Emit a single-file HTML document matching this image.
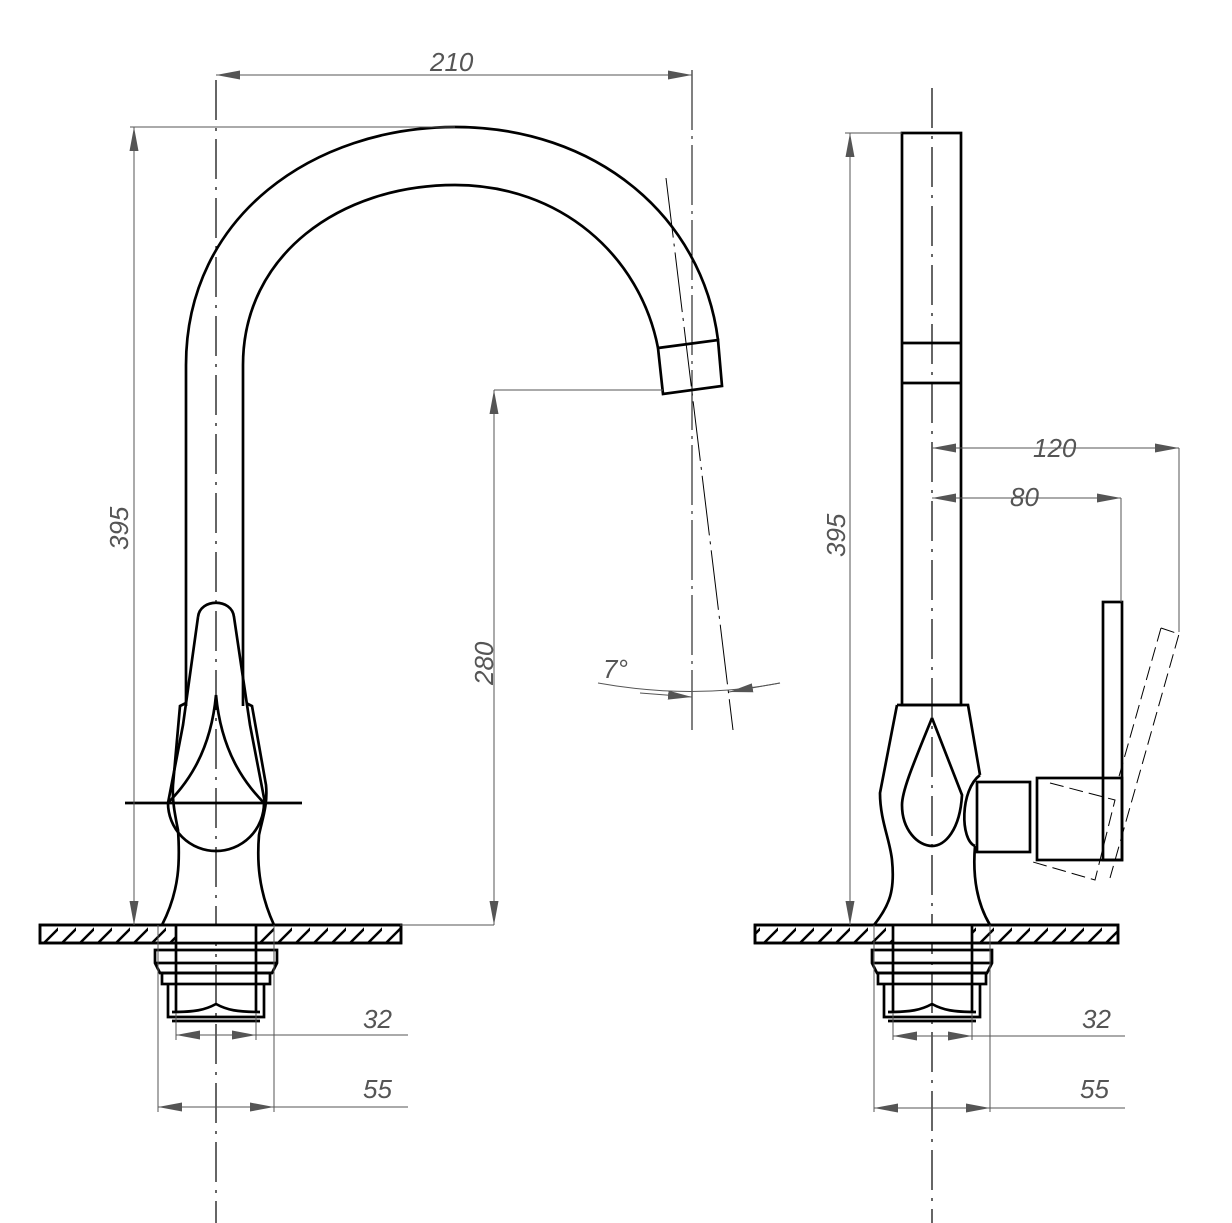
<!DOCTYPE html>
<html><head><meta charset="utf-8"><style>
html,body{margin:0;padding:0;background:#fff}
svg{display:block}
text{font-family:"Liberation Sans",sans-serif;font-style:italic;fill:#555;font-size:26px}
</style></head><body>
<svg width="1232" height="1223" viewBox="0 0 1232 1223" xmlns="http://www.w3.org/2000/svg">
<defs>
<marker id="a" viewBox="0 0 24 10" refX="24" refY="5" markerWidth="24" markerHeight="10" markerUnits="userSpaceOnUse" orient="auto-start-reverse"><path d="M0,0.5 L24,5 L0,9.5Z" fill="#555"/></marker>
<pattern id="h" patternUnits="userSpaceOnUse" width="18" height="18" patternTransform="translate(40,925)"><line x1="4" y1="18" x2="22" y2="0" stroke="#000" stroke-width="2.5"/></pattern>
</defs>
<g fill="none" stroke="#000">
<line x1="216" y1="80" x2="216" y2="1223" stroke-width="1.2" stroke-dasharray="40,8,3,8"/>
<line x1="932" y1="88" x2="932" y2="1223" stroke-width="1.2" stroke-dasharray="40,8,3,8"/>
<line x1="692" y1="70" x2="692" y2="735" stroke-width="1" stroke-dasharray="60,6,3,6"/>
<line x1="666" y1="178" x2="733" y2="730" stroke-width="1" stroke-dasharray="60,6,3,6"/>

<g stroke-width="2.7">
<path d="M186,365 C186,215 315,127 455,127 C595,127 702,215 718,340"/>
<path d="M243,365 C243,255 340,185 455,185 C560,185 640,255 658,348"/>
<line x1="186" y1="365" x2="186" y2="706"/>
<line x1="243" y1="365" x2="243" y2="706"/>
<path d="M658,348 L718,340 L722,386 L663,394 Z"/>
<path d="M186,703 L180,706 L173,785 C172,800 175,815 178,830 C180,860 180,890 162,925"/>
<path d="M246,703 L252,706 L266,785 C268,805 262,820 259,835 C257,860 258,890 274,925"/>
<path d="M198,617 C200,598 232,598 234,617 L250,725 L265,803"/>
<path d="M198,617 L183,725 L168,803"/>
<path d="M216,695 C210,760 180,790 168,803 A48,48 0 0 0 264,803 C252,790 222,760 216,695"/>
<line x1="125" y1="803" x2="302" y2="803"/>
<rect x="40" y="925" width="361" height="18" fill="url(#h)"/>
<rect x="176" y="925" width="80" height="18" fill="#fff" stroke="none"/>
<rect x="40" y="925" width="361" height="18"/>
<line x1="176" y1="925" x2="176" y2="1013"/><line x1="256" y1="925" x2="256" y2="1013"/>
<path d="M155,950 H277 V963 L272,973 H160 L155,963 Z"/><line x1="155" y1="963" x2="277" y2="963"/>
<rect x="162" y="973" width="108" height="11"/>
<path d="M168,984 V1017 H264 V984"/>
<path d="M172,1012 C195,1012 205,1010 216,1004 C227,1010 237,1012 260,1012"/>
<line x1="172" y1="1021" x2="260" y2="1021"/>
</g>

<g stroke-width="2.7">
<rect x="902" y="133" width="59" height="572"/>
<line x1="902" y1="343" x2="961" y2="343"/>
<line x1="902" y1="383" x2="961" y2="383"/>
<path d="M897,705 H968 L980,775"/>
<path d="M897,705 L880,793 C880,820 890,840 892,860 C895,890 890,905 874,925"/>
<path d="M975,846 C973,870 975,900 990,925"/>
<path d="M932,718 L962,795 C960,830 945,846 932,846 C918,846 902,830 902,805 C902,790 915,760 932,718"/>
<path d="M980,775 C960,790 960,840 975,846"/>
<rect x="977" y="782" width="53" height="70"/>
<rect x="1037" y="778" width="85" height="82"/>
<rect x="1103" y="602" width="19" height="258"/>
<rect x="755" y="925" width="363" height="18" fill="url(#h)"/>
<rect x="893" y="925" width="79" height="18" fill="#fff" stroke="none"/>
<rect x="755" y="925" width="363" height="18"/>
<line x1="893" y1="925" x2="893" y2="1013"/><line x1="972" y1="925" x2="972" y2="1013"/>
<path d="M872,950 H992 V963 L987,973 H877 L872,963 Z"/><line x1="872" y1="963" x2="992" y2="963"/>
<rect x="878" y="973" width="108" height="11"/>
<path d="M884,984 V1017 H980 V984"/>
<path d="M888,1012 C911,1012 921,1010 932,1004 C943,1010 953,1012 976,1012"/>
<line x1="888" y1="1021" x2="976" y2="1021"/>
</g>
<g stroke-width="1" stroke-dasharray="14,6">
<path d="M1050,783 L1115,800 L1095,880 L1033,862"/>
<path d="M1161,628 L1179,634 L1110,878"/>
<line x1="1161" y1="628" x2="1118" y2="780"/>
</g>

<g stroke="#555" stroke-width="1">
<line x1="216" y1="75" x2="692" y2="75" marker-start="url(#a)" marker-end="url(#a)"/>
<line x1="130" y1="127" x2="455" y2="127"/>
<line x1="134" y1="127" x2="134" y2="925" marker-start="url(#a)" marker-end="url(#a)"/>
<line x1="494" y1="390" x2="663" y2="390"/>
<line x1="400" y1="925" x2="494" y2="925"/>
<line x1="494" y1="390" x2="494" y2="925" marker-start="url(#a)" marker-end="url(#a)"/>
<path d="M598,683 Q692,700 780,683"/>
<line x1="640" y1="693" x2="692" y2="697" marker-end="url(#a)"/>
<line x1="780" y1="683" x2="729" y2="692" marker-end="url(#a)"/>
<line x1="158" y1="925" x2="158" y2="1112"/><line x1="274" y1="925" x2="274" y2="1112"/>
<line x1="176" y1="1013" x2="176" y2="1040"/><line x1="256" y1="1013" x2="256" y2="1040"/>
<line x1="176" y1="1035" x2="256" y2="1035" marker-start="url(#a)" marker-end="url(#a)"/>
<line x1="256" y1="1035" x2="408" y2="1035"/>
<line x1="158" y1="1107" x2="274" y2="1107" marker-start="url(#a)" marker-end="url(#a)"/>
<line x1="274" y1="1107" x2="408" y2="1107"/>

<line x1="845" y1="133" x2="902" y2="133"/>
<line x1="850" y1="133" x2="850" y2="925" marker-start="url(#a)" marker-end="url(#a)"/>
<line x1="932" y1="448" x2="1179" y2="448" marker-start="url(#a)" marker-end="url(#a)"/>
<line x1="1179" y1="448" x2="1179" y2="632"/>
<line x1="932" y1="498" x2="1121" y2="498" marker-start="url(#a)" marker-end="url(#a)"/>
<line x1="1121" y1="498" x2="1121" y2="602"/>
<line x1="874" y1="925" x2="874" y2="1112"/><line x1="990" y1="925" x2="990" y2="1112"/>
<line x1="893" y1="1013" x2="893" y2="1040"/><line x1="972" y1="1013" x2="972" y2="1040"/>
<line x1="893" y1="1036" x2="972" y2="1036" marker-start="url(#a)" marker-end="url(#a)"/>
<line x1="972" y1="1036" x2="1125" y2="1036"/>
<line x1="874" y1="1108" x2="990" y2="1108" marker-start="url(#a)" marker-end="url(#a)"/>
<line x1="990" y1="1108" x2="1125" y2="1108"/>
</g>
</g>
<text x="430" y="71">210</text>
<text transform="translate(128,550) rotate(-90)">395</text>
<text transform="translate(493,685) rotate(-90)">280</text>
<text x="603" y="678">7°</text>
<text x="363" y="1028">32</text>
<text x="363" y="1098">55</text>
<text transform="translate(845,557) rotate(-90)">395</text>
<text x="1033" y="457">120</text>
<text x="1010" y="506">80</text>
<text x="1082" y="1028">32</text>
<text x="1080" y="1098">55</text>
</svg>
</body></html>
